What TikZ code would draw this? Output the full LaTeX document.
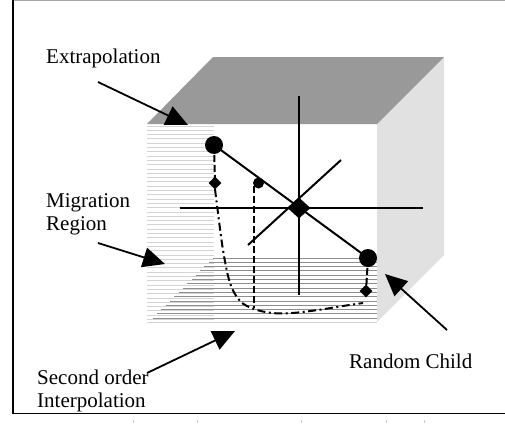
\documentclass[tikz,border=0pt]{standalone}
\usepackage{fontspec}
\setmainfont{Liberation Serif}
\usetikzlibrary{arrows.meta,shapes.geometric}

\definecolor{topface}{HTML}{999999}
\definecolor{sideface}{HTML}{E1E1E1}
\definecolor{lighthatch}{HTML}{D4D4D4}
\definecolor{darkhatch}{HTML}{8E8E8E}

\begin{document}
\begin{tikzpicture}[x=1pt,y=-1pt,
  caption/.style={font=\fontsize{21}{23}\selectfont, inner sep=0pt, anchor=base west},
  pointer/.style={line width=1.8pt, -{Triangle[length=22pt,width=20pt]}},
  axis/.style={line width=2pt},
  bigdot/.style={circle, fill=black, inner sep=0pt, minimum size=18pt},
  smalldot/.style={circle, fill=black, inner sep=0pt, minimum size=11pt},
  bigdiamond/.style={diamond, fill=black, inner sep=0pt, minimum width=23pt, minimum height=21pt},
  smalldiamond/.style={diamond, fill=black, inner sep=0pt, minimum width=13pt, minimum height=13pt},
  drop/.style={line width=2pt, dash pattern=on 7pt off 3pt},
  trail/.style={line width=2pt, dash pattern=on 8pt off 3.5pt on 2pt off 3.5pt}]

\useasboundingbox (0,0) rectangle (505,423);

% frame
\draw[gray!70, line width=0.8pt] (12,0.5) -- (505,0.5);
\draw[line width=1.8pt] (12.8,0) -- (12.8,413.5) -- (505,413.5);
\foreach \tx in {133,197,301,386,424}
  \draw[gray!40, line width=0.7pt] (\tx,420) -- (\tx,423);

% cube faces
\fill[sideface] (377,124) -- (444,57) -- (444,255) -- (377,322) -- cycle;
\fill[topface] (147,124) -- (213,57) -- (444,57) -- (377,124) -- cycle;

% migration strip on the front face
\foreach \k in {0,...,45}
  \draw[lighthatch, line width=0.9pt] (147,126+4.3*\k) -- (214,126+4.3*\k);
% floor band on the front face
\foreach \k in {0,...,15}
  \draw[darkhatch, line width=0.9pt]
    ({213-4.3*\k},258+4.3*\k) -- (377,258+4.3*\k);
\draw[lighthatch, line width=0.9pt] (147,322.5) -- (377,322.5);

% positions of the points
\coordinate (p1) at (214,145);
\coordinate (p2) at (368,258);
\coordinate (ctr) at (299,208);
\coordinate (q1) at (215,183);
\coordinate (q2) at (366,291);
\coordinate (m) at (258.5,183);
\coordinate (vt) at (299,96);
\coordinate (vb) at (299,295);
\coordinate (hl) at (180,208);
\coordinate (hr) at (423,208);
\coordinate (dl) at (248,245);
\coordinate (dr) at (341,160);
\coordinate (mtop) at (254,186);
\coordinate (mbot) at (254,308);

% axes through the centre
\draw[axis] (vt) -- (vb);
\draw[axis] (hl) -- (hr);
\draw[axis] (dl) -- (dr);
\draw[axis] (p1) -- (p2);

% projections
\draw[drop] (p1) -- (q1);
\draw[drop] (p2) -- (q2);
\draw[drop] (mtop) -- (mbot);

% second order curve
\draw[trail] plot[smooth, tension=0.55] coordinates
  {(215,189) (217,205) (223,250) (230,283) (240,301) (254,309) (272,313) (292,313) (318,310) (343,306) (363,303)};

% points
\node[bigdot] (parent1) at (p1) {};
\node[bigdot] (parent2) at (p2) {};
\node[smalldot] (mid) at (m) {};
\node[bigdiamond] (centre) at (ctr) {};
\node[smalldiamond] (proj1) at (q1) {};
\node[smalldiamond] (proj2) at (q2) {};

% labels
\node[caption] (extra) at (46,63) {Extrapolation};
\node[caption] (migA) at (46,207) {Migration};
\node[caption] (migB) at (46,230) {Region};
\node[caption] (secA) at (37,384) {Second order};
\node[caption] (secB) at (37,407) {Interpolation};
\node[caption] (rand) at (349,368) {Random Child};

% pointers
\coordinate (a1s) at (98,82);   \coordinate (a1e) at (188,125);
\coordinate (a2s) at (98,243);  \coordinate (a2e) at (165,264);
\coordinate (a3s) at (147,373); \coordinate (a3e) at (235,331);
\coordinate (a4s) at (447,330); \coordinate (a4e) at (385,274);
\draw[pointer] (a1s) -- (a1e);
\draw[pointer] (a2s) -- (a2e);
\draw[pointer] (a3s) -- (a3e);
\draw[pointer] (a4s) -- (a4e);

\end{tikzpicture}
\end{document}
